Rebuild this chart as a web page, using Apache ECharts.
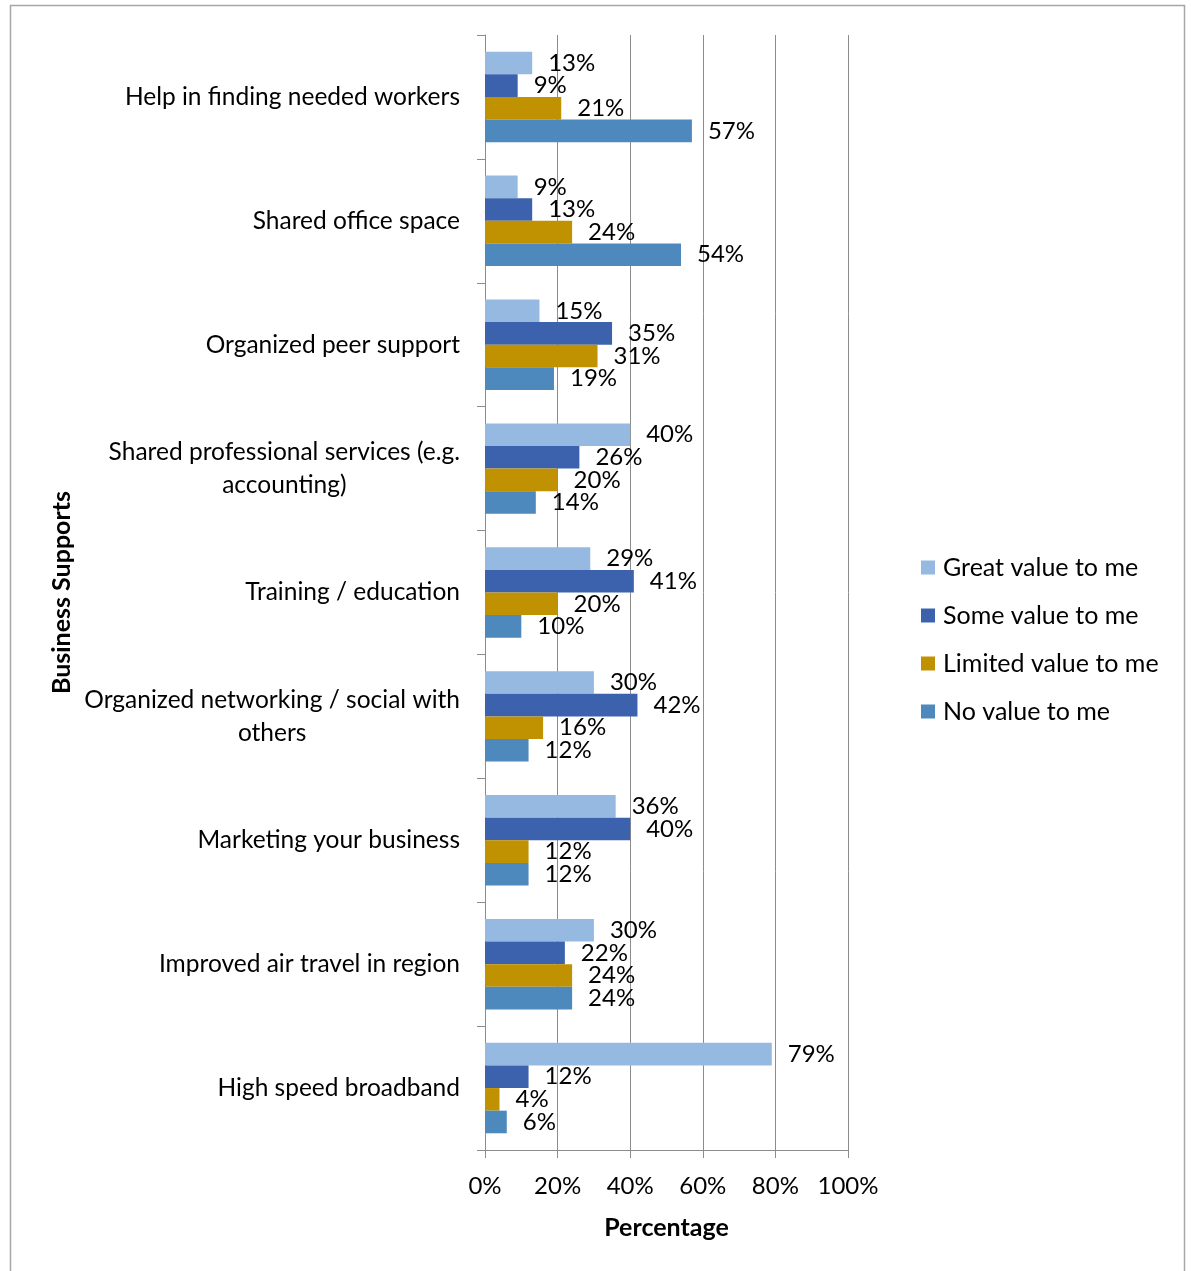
<!DOCTYPE html>
<html><head><meta charset="utf-8">
<script src="https://cdn.jsdelivr.net/npm/echarts@6/dist/echarts.min.js"></script>
<style>html,body{margin:0;padding:0;background:#fff}#c{width:1191px;height:1271px}</style>
</head><body><div id="c"></div>
<script>
const categories = [
  "Help in finding needed workers",
  "Shared office space",
  "Organized peer support",
  "Shared professional services (e.g.\naccounting)",
  "Training / education",
  "Organized networking / social with\nothers",
  "Marketing your business",
  "Improved air travel in region",
  "High speed broadband"
];
const seriesNames = ["Great value to me","Some value to me","Limited value to me","No value to me"];
const greatValue   = [13, 9, 15, 40, 29, 30, 36, 30, 79];
const someValue    = [9, 13, 35, 26, 41, 42, 40, 22, 12];
const limitedValue = [21, 24, 31, 20, 20, 16, 12, 24, 4];
const noValue      = [57, 54, 19, 14, 10, 12, 12, 24, 6];
const xTicks = [0, 20, 40, 60, 80, 100];
const colors = ["#95B9E1", "#3C62AD", "#C09100", "#4E89BE"];

const FONT = "Lato, 'Noto Sans', sans-serif";
const chart = echarts.init(document.getElementById('c'), null, {renderer: 'canvas'});
const values = [greatValue, someValue, limitedValue, noValue];
chart.setOption({
  animation: false,
  textStyle: {fontFamily: FONT},
  graphic: [{
    type: 'rect', shape: {x: 10.5, y: 5.5, width: 1174, height: 1300},
    style: {fill: 'none', stroke: '#A6A6A6', lineWidth: 1.5}, silent: true, z: -1
  }],
  grid: {left: 485, right: 343, top: 35, bottom: 121, containLabel: false},
  legend: {
    orient: 'vertical', left: 921, top: 555, padding: 0, itemWidth: 14, itemHeight: 14, itemGap: 23,
    icon: 'rect', data: seriesNames,
    textStyle: {fontSize: 25, color: '#000', fontFamily: FONT, padding: [0, 0, 0, 3]}
  },
  xAxis: {
    type: 'value', min: 0, max: 100, interval: 20,
    axisLine: {show: true, lineStyle: {color: '#8C8C8C', width: 1}},
    axisTick: {show: true, length: 8, lineStyle: {color: '#8C8C8C'}},
    splitLine: {show: true, lineStyle: {color: '#8C8C8C', width: 1}},
    axisLabel: {formatter: v => v + '%', fontSize: 24, color: '#000', margin: 24, fontFamily: FONT},
    name: 'Percentage', nameLocation: 'middle', nameGap: 65,
    nameTextStyle: {fontSize: 25, fontWeight: 'bold', color: '#000', fontFamily: FONT}
  },
  yAxis: {
    type: 'category', data: categories, inverse: true,
    axisLine: {show: true, lineStyle: {color: '#8C8C8C', width: 1}},
    axisTick: {show: true, length: 8, lineStyle: {color: '#8C8C8C'}},
    axisLabel: {
      fontSize: 24.5, color: '#000', margin: 25, fontFamily: FONT, lineHeight: 33,
      formatter: v => v.split('\n').map(s => '{c|' + s + '}').join('\n'),
      rich: {c: {align: 'center', fontSize: 24.5, lineHeight: 33, fontFamily: FONT, color: '#000'}}
    },
    name: 'Business Supports', nameLocation: 'middle', nameGap: 411, nameRotate: 90,
    nameTextStyle: {fontSize: 25, fontWeight: 'bold', color: '#000', fontFamily: FONT}
  },
  series: seriesNames.map((n, i) => ({
    name: n, type: 'bar', data: values[i], barGap: '0%', barCategoryGap: '27%',
    itemStyle: {color: colors[i]},
    label: {show: true, position: 'right', distance: 16, formatter: p => p.value + '%',
      fontSize: 24, color: '#000', fontFamily: FONT}
  }))
});
</script></body></html>
